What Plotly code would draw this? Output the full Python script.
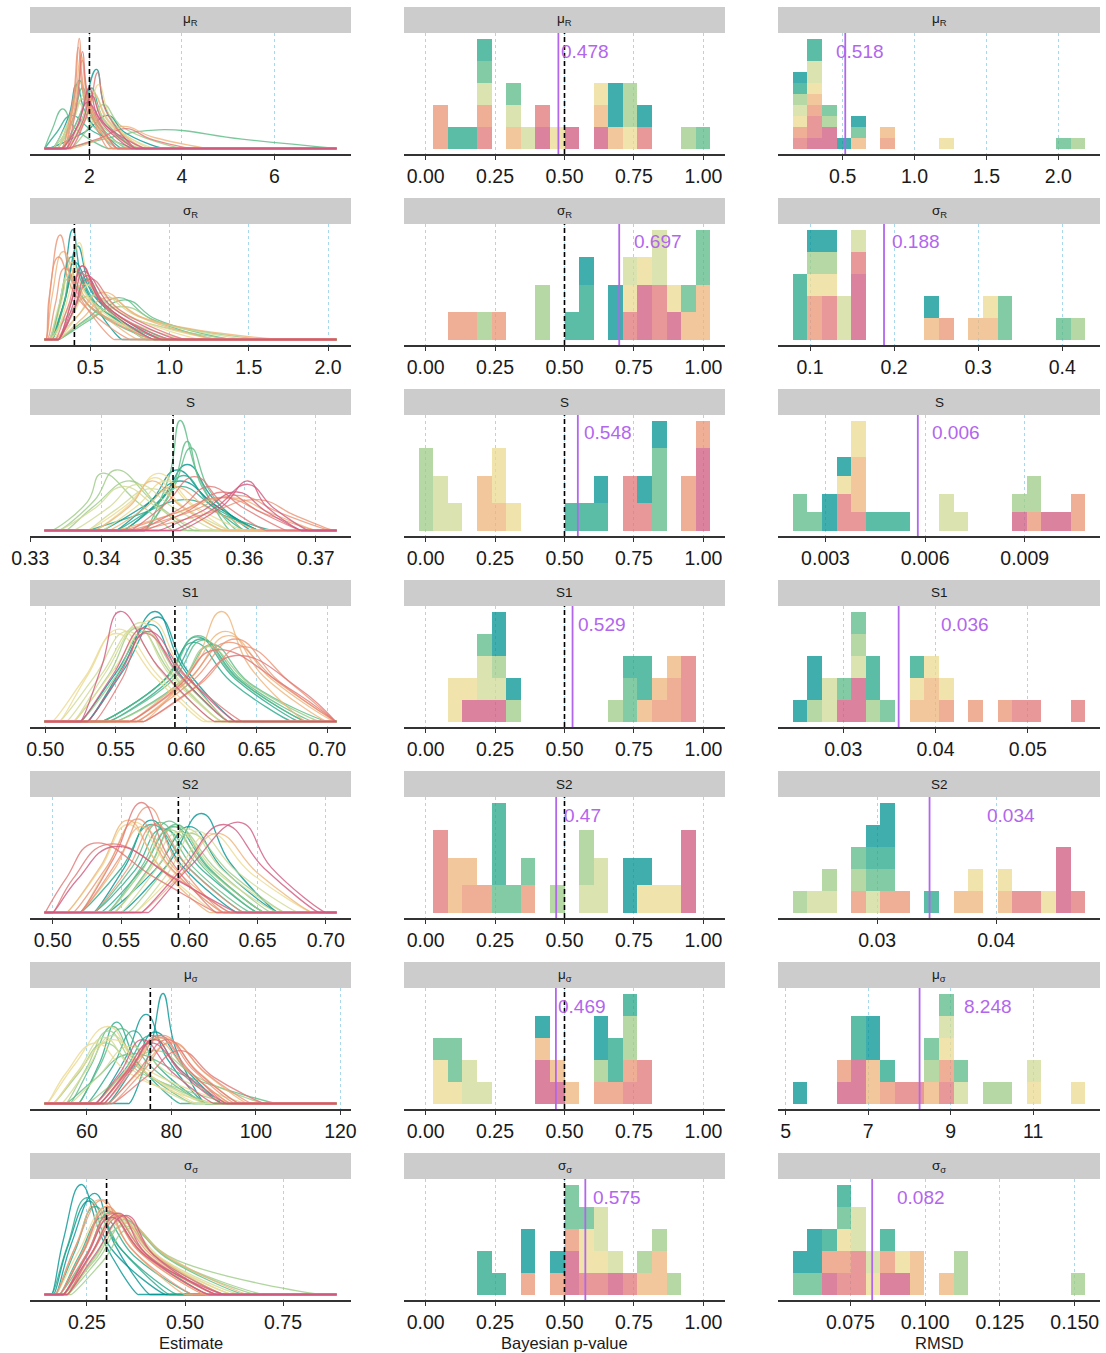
"""Posterior estimates, Bayesian p-values and RMSD for each model parameter"""

import numpy as np
import plotly.graph_objects as go

# ---------------------------------------------------------------------------
# data
# ---------------------------------------------------------------------------
PARAM_LABELS = ["μ<sub>R</sub>", "σ<sub>R</sub>", "S", "S1", "S2", "μ<sub>σ</sub>", "σ<sub>σ</sub>"]
TRUE_VALUES = [2, 0.4, 0.35, 0.592, 0.592, 75, 0.3]

# range covered by the posterior draws of each parameter
EST_LO = [1.03, 0.212, 0.332, 0.4995, 0.494, 49.97, 0.142]
EST_HI = [7.34, 2.053, 0.3729, 0.7066, 0.7078, 119.05, 0.886]

# one density per data set (30 sets, 3 per colour group, teal -> pink)
# (left foot, left half-max, mode, height, right half-max, right foot)
EST_MU_R = [
    (1.4, 1.85, 2.15, 72, 2.35, 3.0), (1.2, 1.55, 1.72, 58, 1.95, 2.6), (1.1, 1.9, 2.4, 30, 2.75, 3.6),
    (1.3, 1.6, 1.78, 62, 2.0, 2.7), (1.4, 1.85, 2.05, 55, 2.3, 3.0), (1.03, 1.3, 1.6, 30, 2.1, 3.0),
    (1.03, 1.2, 1.42, 36, 1.7, 2.4), (1.3, 1.65, 1.85, 55, 2.1, 2.8), (1.5, 2.3, 3.5, 17, 5.3, 7.34),
    (1.4, 1.75, 2.0, 52, 2.3, 3.0), (1.2, 1.6, 1.85, 45, 2.2, 3.1), (1.6, 2.0, 2.3, 40, 2.7, 4.0),
    (1.3, 1.65, 1.9, 50, 2.2, 3.0), (1.5, 1.85, 2.1, 48, 2.45, 3.3), (1.2, 1.5, 1.75, 42, 2.05, 2.9),
    (1.5, 1.95, 2.2, 58, 2.45, 3.1), (1.3, 1.6, 1.8, 60, 2.0, 2.6), (1.4, 1.8, 2.05, 45, 2.4, 3.4),
    (1.4, 1.68, 1.82, 85, 1.98, 2.5), (1.5, 1.9, 2.1, 50, 2.4, 3.2), (1.6, 2.3, 2.7, 20, 3.4, 4.6),
    (1.45, 1.68, 1.78, 100, 1.9, 2.4), (1.4, 1.65, 1.76, 92, 1.9, 2.5), (1.45, 1.7, 1.85, 80, 2.0, 2.6),
    (1.5, 1.74, 1.85, 88, 2.0, 2.6), (1.6, 1.98, 2.18, 69, 2.35, 3.0), (1.5, 2.2, 2.8, 18, 3.3, 4.2),
    (1.5, 1.8, 2.0, 55, 2.2, 2.9), (1.55, 1.85, 2.05, 48, 2.3, 3.0), (1.4, 1.75, 1.95, 42, 2.35, 3.2),
]
EST_SIGMA_R = [
    (0.25, 0.33, 0.39, 100, 0.46, 0.7), (0.26, 0.35, 0.42, 85, 0.52, 0.85), (0.25, 0.34, 0.40, 70, 0.55, 0.9),
    (0.24, 0.32, 0.38, 75, 0.5, 0.9), (0.3, 0.4, 0.48, 55, 0.62, 1.0), (0.25, 0.33, 0.41, 62, 0.55, 0.95),
    (0.3, 0.5, 0.72, 36, 0.92, 1.4), (0.3, 0.48, 0.68, 38, 0.88, 1.3), (0.26, 0.33, 0.38, 58, 0.5, 0.9),
    (0.25, 0.35, 0.5, 40, 0.75, 1.4), (0.3, 0.45, 0.7, 30, 0.95, 1.6), (0.24, 0.3, 0.36, 55, 0.52, 1.0),
    (0.25, 0.35, 0.45, 50, 0.68, 1.3), (0.3, 0.42, 0.55, 42, 0.8, 1.5), (0.24, 0.3, 0.37, 60, 0.55, 1.1),
    (0.27, 0.37, 0.43, 88, 0.52, 0.85), (0.25, 0.32, 0.38, 70, 0.5, 0.9), (0.28, 0.4, 0.5, 50, 0.7, 1.2),
    (0.28, 0.42, 0.58, 43, 0.8, 1.3), (0.22, 0.26, 0.33, 80, 0.46, 0.8), (0.3, 0.45, 0.6, 38, 0.85, 1.7),
    (0.22, 0.25, 0.31, 95, 0.40, 0.65), (0.22, 0.24, 0.30, 75, 0.42, 0.75), (0.23, 0.28, 0.34, 65, 0.48, 0.9),
    (0.3, 0.38, 0.45, 67, 0.58, 0.95), (0.3, 0.4, 0.5, 55, 0.68, 1.1), (0.28, 0.36, 0.44, 60, 0.6, 1.0),
    (0.3, 0.38, 0.45, 67, 0.57, 0.9), (0.3, 0.39, 0.46, 62, 0.6, 0.95), (0.3, 0.4, 0.48, 58, 0.64, 1.05),
]
EST_S = [
    (0.343, 0.3485, 0.352, 60, 0.3555, 0.361), (0.342, 0.347, 0.3505, 55, 0.355, 0.362), (0.34, 0.346, 0.351, 45, 0.356, 0.362),
    (0.338, 0.345, 0.352, 28, 0.357, 0.364), (0.342, 0.347, 0.351, 40, 0.356, 0.362), (0.343, 0.348, 0.3515, 50, 0.355, 0.36),
    (0.346, 0.3495, 0.351, 100, 0.3535, 0.358), (0.346, 0.35, 0.352, 81, 0.354, 0.359), (0.346, 0.35, 0.3525, 75, 0.355, 0.36),
    (0.333, 0.338, 0.340, 52, 0.345, 0.35), (0.334, 0.339, 0.342, 55, 0.347, 0.352), (0.335, 0.339, 0.344, 45, 0.348, 0.353),
    (0.334, 0.339, 0.343, 40, 0.348, 0.354), (0.336, 0.341, 0.345, 42, 0.35, 0.356), (0.338, 0.342, 0.347, 38, 0.352, 0.358),
    (0.338, 0.344, 0.348, 52, 0.352, 0.358), (0.339, 0.344, 0.3475, 48, 0.351, 0.357), (0.34, 0.345, 0.349, 45, 0.353, 0.36),
    (0.339, 0.344, 0.347, 45, 0.351, 0.357), (0.342, 0.35, 0.358, 30, 0.364, 0.37), (0.341, 0.346, 0.35, 40, 0.355, 0.362),
    (0.344, 0.352, 0.359, 32, 0.365, 0.372), (0.345, 0.354, 0.362, 28, 0.367, 0.3725), (0.343, 0.35, 0.357, 30, 0.363, 0.37),
    (0.344, 0.349, 0.353, 49, 0.357, 0.363), (0.346, 0.352, 0.357, 35, 0.362, 0.368), (0.345, 0.351, 0.355, 40, 0.36, 0.366),
    (0.351, 0.357, 0.3605, 45, 0.363, 0.368), (0.348, 0.354, 0.359, 35, 0.363, 0.368), (0.35, 0.356, 0.3605, 42, 0.364, 0.369),
]
EST_S1 = [
    (0.53, 0.555, 0.578, 100, 0.597, 0.63), (0.53, 0.556, 0.58, 95, 0.6, 0.635), (0.525, 0.55, 0.575, 88, 0.595, 0.63),
    (0.54, 0.585, 0.607, 77, 0.635, 0.68), (0.545, 0.588, 0.61, 75, 0.638, 0.685), (0.54, 0.583, 0.605, 72, 0.632, 0.675),
    (0.545, 0.59, 0.612, 74, 0.64, 0.69), (0.54, 0.586, 0.608, 78, 0.636, 0.685), (0.55, 0.595, 0.618, 70, 0.645, 0.7),
    (0.52, 0.545, 0.565, 85, 0.59, 0.625), (0.55, 0.595, 0.615, 68, 0.645, 0.695), (0.525, 0.55, 0.57, 82, 0.595, 0.63),
    (0.52, 0.543, 0.568, 90, 0.59, 0.625), (0.51, 0.535, 0.558, 82, 0.585, 0.62), (0.515, 0.54, 0.565, 86, 0.588, 0.625),
    (0.51, 0.53, 0.552, 84, 0.58, 0.615), (0.52, 0.548, 0.575, 92, 0.597, 0.63), (0.505, 0.528, 0.55, 80, 0.578, 0.612),
    (0.57, 0.605, 0.625, 100, 0.645, 0.685), (0.56, 0.6, 0.628, 82, 0.655, 0.7), (0.565, 0.603, 0.63, 78, 0.66, 0.7055),
    (0.56, 0.6, 0.63, 72, 0.665, 0.706), (0.565, 0.605, 0.635, 75, 0.665, 0.706), (0.57, 0.61, 0.64, 68, 0.675, 0.706),
    (0.56, 0.595, 0.62, 65, 0.67, 0.706), (0.57, 0.605, 0.635, 60, 0.68, 0.706), (0.535, 0.555, 0.57, 80, 0.6, 0.64),
    (0.525, 0.54, 0.553, 100, 0.58, 0.62), (0.525, 0.548, 0.57, 85, 0.595, 0.63), (0.53, 0.552, 0.573, 82, 0.6, 0.635),
]
EST_S2 = [
    (0.55, 0.585, 0.609, 90, 0.63, 0.665), (0.53, 0.553, 0.572, 84, 0.595, 0.635), (0.54, 0.575, 0.6, 78, 0.625, 0.665),
    (0.52, 0.55, 0.572, 80, 0.6, 0.64), (0.535, 0.565, 0.588, 78, 0.615, 0.655), (0.53, 0.56, 0.58, 76, 0.61, 0.65),
    (0.54, 0.565, 0.585, 83, 0.61, 0.65), (0.545, 0.57, 0.59, 80, 0.615, 0.655), (0.53, 0.558, 0.578, 82, 0.603, 0.645),
    (0.545, 0.57, 0.59, 78, 0.62, 0.66), (0.54, 0.565, 0.585, 75, 0.615, 0.655), (0.555, 0.58, 0.6, 72, 0.63, 0.67),
    (0.55, 0.575, 0.598, 76, 0.625, 0.67), (0.56, 0.585, 0.605, 74, 0.635, 0.68), (0.545, 0.57, 0.592, 73, 0.62, 0.665),
    (0.51, 0.535, 0.555, 80, 0.58, 0.62), (0.56, 0.59, 0.615, 72, 0.645, 0.69), (0.52, 0.54, 0.56, 82, 0.585, 0.625),
    (0.51, 0.535, 0.555, 84, 0.578, 0.615), (0.52, 0.545, 0.565, 78, 0.59, 0.63), (0.565, 0.595, 0.62, 72, 0.65, 0.69),
    (0.52, 0.548, 0.57, 96, 0.59, 0.625), (0.515, 0.54, 0.562, 85, 0.585, 0.625), (0.53, 0.555, 0.575, 80, 0.6, 0.64),
    (0.52, 0.545, 0.565, 100, 0.585, 0.62), (0.4945, 0.51, 0.53, 63, 0.575, 0.62), (0.5, 0.515, 0.54, 62, 0.59, 0.63),
    (0.57, 0.6, 0.637, 82, 0.66, 0.7), (0.565, 0.595, 0.625, 80, 0.655, 0.695), (0.5, 0.518, 0.545, 60, 0.59, 0.635),
]
EST_MU_SIGMA = [
    (70, 75, 78, 100, 81, 88), (62, 69, 74, 81, 79, 88), (65, 71, 76, 65, 83, 92),
    (58, 63, 67, 74, 72, 82), (62, 69, 75, 62, 82, 92), (60, 66, 71, 66, 77, 88),
    (56, 61, 66, 70, 72, 85), (58, 63, 68, 68, 75, 88), (55, 62, 70, 45, 85, 105),
    (55, 60, 65, 66, 72, 90), (52, 58, 64, 55, 73, 95), (60, 68, 76, 48, 86, 102),
    (52, 58, 64, 60, 71, 85), (54, 60, 66, 62, 73, 88), (56, 63, 70, 52, 80, 98),
    (50.5, 57, 65, 70, 72, 86), (50.5, 55, 62, 55, 70, 90), (52, 58, 66, 58, 75, 95),
    (63, 70, 78, 60, 86, 96), (65, 72, 80, 55, 88, 98), (62, 69, 76, 58, 84, 94),
    (64, 71, 78, 62, 85, 95), (66, 73, 80, 56, 88, 99), (63, 70, 77, 60, 84, 94),
    (63, 70, 77, 62, 84, 93), (65, 72, 79, 58, 86, 96), (66, 74, 82, 48, 90, 102),
    (62, 68, 73, 58, 80, 90), (64, 70, 76, 58, 82, 92), (63, 69, 75, 55, 83, 93),
]
EST_SIGMA_SIGMA = [
    (0.16, 0.19, 0.235, 100, 0.29, 0.38), (0.17, 0.21, 0.27, 92, 0.32, 0.41), (0.165, 0.2, 0.255, 85, 0.31, 0.45),
    (0.16, 0.2, 0.25, 88, 0.33, 0.46), (0.17, 0.22, 0.27, 80, 0.34, 0.48), (0.18, 0.23, 0.29, 70, 0.37, 0.52),
    (0.19, 0.26, 0.33, 72, 0.42, 0.6), (0.2, 0.27, 0.34, 68, 0.45, 0.65), (0.18, 0.25, 0.31, 75, 0.4, 0.56),
    (0.2, 0.28, 0.35, 65, 0.46, 0.7), (0.19, 0.27, 0.34, 62, 0.48, 0.85), (0.21, 0.29, 0.36, 60, 0.47, 0.68),
    (0.18, 0.24, 0.3, 78, 0.39, 0.58), (0.19, 0.26, 0.32, 72, 0.42, 0.62), (0.2, 0.27, 0.34, 66, 0.44, 0.64),
    (0.17, 0.23, 0.3, 80, 0.38, 0.55), (0.18, 0.24, 0.31, 76, 0.4, 0.58), (0.2, 0.26, 0.33, 70, 0.43, 0.62),
    (0.17, 0.22, 0.28, 86, 0.36, 0.5), (0.2, 0.26, 0.33, 72, 0.45, 0.66), (0.19, 0.25, 0.32, 74, 0.42, 0.6),
    (0.17, 0.22, 0.29, 86, 0.36, 0.52), (0.18, 0.24, 0.3, 80, 0.38, 0.55), (0.19, 0.25, 0.32, 74, 0.41, 0.58),
    (0.19, 0.25, 0.31, 74, 0.4, 0.58), (0.2, 0.26, 0.34, 72, 0.42, 0.6), (0.18, 0.24, 0.3, 76, 0.39, 0.56),
    (0.19, 0.26, 0.33, 74, 0.4, 0.56), (0.2, 0.27, 0.35, 72, 0.42, 0.58), (0.19, 0.25, 0.31, 70, 0.4, 0.6),
]

# Bayesian p-values, one per data set (same order as the densities)
PV_MU_R = [0.68, 0.69, 0.79, 0.11, 0.16, 0.21, 0.22, 0.32, 0.999, 0.73, 0.74, 0.95, 0.21, 0.31, 0.37,
           0.47, 0.63, 0.74, 0.32, 0.62, 0.68, 0.05, 0.06, 0.20, 0.21, 0.42, 0.79, 0.43, 0.53, 0.63]
PV_SIGMA_R = [0.58, 0.67, 0.69, 0.53, 0.57, 0.59, 0.94, 0.98, 0.999, 0.21, 0.41, 0.43, 0.75, 0.83, 0.85,
              0.73, 0.79, 0.88, 0.93, 0.99, 0.98, 0.10, 0.15, 0.27, 0.72, 0.82, 0.84, 0.78, 0.80, 0.88]
PV_S = [0.64, 0.78, 0.83, 0.52, 0.57, 0.62, 0.82, 0.84, 0.86, 0.001, 0.01, 0.02, 0.04, 0.07, 0.12,
        0.25, 0.27, 0.31, 0.20, 0.22, 0.26, 0.93, 0.95, 0.99, 0.72, 0.75, 0.77, 0.975, 0.985, 0.996]
PV_S1 = [0.25, 0.28, 0.33, 0.73, 0.77, 0.80, 0.22, 0.72, 0.75, 0.27, 0.31, 0.67, 0.20, 0.23, 0.26,
         0.09, 0.12, 0.15, 0.79, 0.83, 0.88, 0.84, 0.89, 0.91, 0.93, 0.94, 0.96, 0.16, 0.21, 0.25]
PV_S2 = [0.72, 0.75, 0.78, 0.25, 0.26, 0.28, 0.27, 0.32, 0.37, 0.46, 0.57, 0.59, 0.56, 0.62, 0.64,
         0.79, 0.84, 0.90, 0.09, 0.12, 0.17, 0.15, 0.22, 0.38, 0.04, 0.05, 0.07, 0.93, 0.94, 0.96]
PV_MU_SIGMA = [0.41, 0.63, 0.65, 0.67, 0.69, 0.73, 0.06, 0.10, 0.12, 0.62, 0.72, 0.75, 0.14, 0.17, 0.21,
               0.04, 0.07, 0.11, 0.43, 0.46, 0.52, 0.64, 0.68, 0.74, 0.73, 0.78, 0.80, 0.40, 0.42, 0.48]
PV_SIGMA_SIGMA = [0.36, 0.38, 0.46, 0.20, 0.23, 0.26, 0.52, 0.54, 0.57, 0.78, 0.83, 0.89, 0.62, 0.64, 0.67,
                  0.56, 0.59, 0.63, 0.77, 0.82, 0.85, 0.37, 0.48, 0.51, 0.58, 0.61, 0.73, 0.51, 0.53, 0.69]
PV_MEAN = [0.478, 0.697, 0.548, 0.529, 0.47, 0.469, 0.575]

# RMSD, one per data set
RMSD_MU_R = [0.22, 0.51, 0.61, 0.203, 0.30, 0.31, 0.41, 0.62, 2.04, 0.24, 0.40, 2.137, 0.21, 0.29, 0.32,
             0.23, 0.33, 1.22, 0.28, 0.59, 0.81, 0.23, 0.31, 0.82, 0.22, 0.29, 0.34, 0.30, 0.39, 0.42]
RMSD_SIGMA_R = [0.105, 0.122, 0.245, 0.088, 0.09, 0.094, 0.328, 0.335, 0.40, 0.108, 0.12, 0.4188,
                0.135, 0.145, 0.155, 0.10, 0.125, 0.31, 0.24, 0.295, 0.315, 0.102, 0.11, 0.26,
                0.118, 0.128, 0.158, 0.152, 0.16, 0.164]
RMSD_S = [0.00305, 0.00315, 0.00355, 0.00443, 0.00488, 0.0053, 0.00223, 0.00235, 0.00268, 0.00884,
          0.00925, 0.00932, 0.0066, 0.00668, 0.0071, 0.0035, 0.00395, 0.0040, 0.0039, 0.00402,
          0.00408, 0.0093, 0.0105, 0.010606, 0.00352, 0.0036, 0.00398, 0.0088, 0.0097, 0.0102]
RMSD_S1 = [0.0253, 0.0266, 0.0272, 0.0330, 0.0335, 0.0380, 0.0300, 0.0317, 0.0348, 0.0268, 0.0315, 0.0329,
           0.0283, 0.0288, 0.0319, 0.0378, 0.0395, 0.0412, 0.0382, 0.0392, 0.0398, 0.0410, 0.0443, 0.0474,
           0.0490, 0.0507, 0.05545, 0.0302, 0.0313, 0.0320]
RMSD_S2 = [0.0298, 0.0308, 0.0310, 0.0296, 0.0306, 0.0346, 0.0284, 0.0294, 0.0312, 0.023515, 0.0259, 0.0285,
           0.0247, 0.0261, 0.0297, 0.0382, 0.0406, 0.0444, 0.0370, 0.0384, 0.0408, 0.0283, 0.0305, 0.0321,
           0.0420, 0.0432, 0.046873, 0.0455, 0.0457, 0.0459]
RMSD_MU_SIGMA = [5.348, 7.05, 7.20, 6.70, 6.85, 7.45, 8.50, 8.90, 9.20, 8.60, 10.0, 10.3, 8.85, 9.30, 11.0,
                 8.95, 11.05, 12.089, 7.10, 7.15, 8.45, 6.40, 7.50, 8.80, 7.80, 8.20, 8.90, 6.45, 6.75, 6.80]
RMSD_SIGMA_SIGMA = [0.0625, 0.064, 0.0595, 0.068, 0.073, 0.0875, 0.05816, 0.063, 0.0725, 0.111, 0.113, 0.15112,
                    0.077, 0.079, 0.0825, 0.0728, 0.0815, 0.092, 0.0965, 0.098, 0.1065, 0.0665, 0.0735, 0.0868,
                    0.0712, 0.0765, 0.0785, 0.069, 0.0872, 0.0925]
RMSD_MEAN = [0.518, 0.188, 0.00578, 0.036, 0.0344, 8.248, 0.0823]

EST_CURVES = [EST_MU_R, EST_SIGMA_R, EST_S, EST_S1, EST_S2, EST_MU_SIGMA, EST_SIGMA_SIGMA]
PV = [PV_MU_R, PV_SIGMA_R, PV_S, PV_S1, PV_S2, PV_MU_SIGMA, PV_SIGMA_SIGMA]
RMSD = [RMSD_MU_R, RMSD_SIGMA_R, RMSD_S, RMSD_S1, RMSD_S2, RMSD_MU_SIGMA, RMSD_SIGMA_SIGMA]

# axis breaks
EST_TICKS = [[2, 4, 6], [0.5, 1.0, 1.5, 2.0], [0.33, 0.34, 0.35, 0.36, 0.37],
             [0.5, 0.55, 0.6, 0.65, 0.7], [0.5, 0.55, 0.6, 0.65, 0.7], [60, 80, 100, 120], [0.25, 0.5, 0.75]]
EST_TICKTEXT = [["2", "4", "6"], ["0.5", "1.0", "1.5", "2.0"], ["0.33", "0.34", "0.35", "0.36", "0.37"],
                ["0.50", "0.55", "0.60", "0.65", "0.70"], ["0.50", "0.55", "0.60", "0.65", "0.70"],
                ["60", "80", "100", "120"], ["0.25", "0.50", "0.75"]]
PV_TICKS = [0, 0.25, 0.5, 0.75, 1.0]
PV_TICKTEXT = ["0.00", "0.25", "0.50", "0.75", "1.00"]
RMSD_TICKS = [[0.5, 1.0, 1.5, 2.0], [0.1, 0.2, 0.3, 0.4], [0.003, 0.006, 0.009], [0.03, 0.04, 0.05],
              [0.03, 0.04], [5, 7, 9, 11], [0.075, 0.1, 0.125, 0.15]]
RMSD_TICKTEXT = [["0.5", "1.0", "1.5", "2.0"], ["0.1", "0.2", "0.3", "0.4"], ["0.003", "0.006", "0.009"],
                 ["0.03", "0.04", "0.05"], ["0.03", "0.04"], ["5", "7", "9", "11"],
                 ["0.075", "0.100", "0.125", "0.150"]]
COLUMN_TITLES = ["Estimate", "Bayesian p-value", "RMSD"]

# ---------------------------------------------------------------------------
# style
# ---------------------------------------------------------------------------
W, H = 1106, 1353
FONT = "Liberation Sans, Arial, sans-serif"
GROUP_COLORS = ["#009392", "#26A789", "#5ABA85", "#9CCB86", "#CFDA95",
                "#EBD990", "#EEB479", "#EA9474", "#E07675", "#CF597E"]
PURPLE = "#B266EE"
GRID = "#A9D8EC"
NBINS = 20

COL_X0 = [30, 404, 778]
COL_X1 = [351, 725, 1100]
ROW_PITCH = 191
STRIP_TOP, PANEL_TOP, PANEL_BOTTOM = 7, 33, 154


def rgba(hex_color, alpha):
    h = hex_color.lstrip("#")
    r, g, b = (int(h[i:i + 2], 16) for i in (0, 2, 4))
    return f"rgba({r},{g},{b},{alpha})"


def bins_for(values):
    """ggplot-like binning: NBINS bins centred on the min and max value"""
    lo, hi = min(values), max(values)
    w = (hi - lo) / (NBINS - 1)
    return lo - w / 2, w


def group_of(d):
    return d // 3


fig = go.Figure()
layout_axes = {}
shapes = []
annotations = []

pv_start, pv_w = bins_for([v for vals in PV for v in vals])

for r in range(7):
    ydom = [1 - (PANEL_BOTTOM + r * ROW_PITCH) / H, 1 - (PANEL_TOP + r * ROW_PITCH) / H]
    for c in range(3):
        p = r * 3 + c
        sfx = "" if p == 0 else str(p + 1)
        xname, yname = "x" + sfx, "y" + sfx

        if c == 0:
            lo, hi = EST_LO[r], EST_HI[r]
            eps = 0.004 * (hi - lo)
            for d, (lf, lh, px, h, rh, rf) in enumerate(EST_CURVES[r]):
                xs, ys = [], []
                if lf - eps > lo:
                    xs += [lo, lf - eps]
                    ys += [0, 0]
                xs += [lf, lh, px, rh, rf]
                ys += [0, h / 2, h, h / 2, 0]
                if rf + eps < hi:
                    xs += [rf + eps, hi]
                    ys += [0, 0]
                fig.add_trace(go.Scatter(
                    x=xs, y=ys, mode="lines",
                    line=dict(color=rgba(GROUP_COLORS[group_of(d)], 0.8), width=1.3,
                              shape="spline", smoothing=1.3),
                    xaxis=xname, yaxis=yname, showlegend=False, hoverinfo="skip",
                ))
            ymax = max(k[3] for k in EST_CURVES[r])
            pad = 0.05 * (hi - lo)
            xrange = [lo - pad, hi + pad]
            ticks, ticktext = EST_TICKS[r], EST_TICKTEXT[r]
            shapes.append(dict(type="line", xref=xname, yref=yname + " domain",
                               x0=TRUE_VALUES[r], x1=TRUE_VALUES[r], y0=0, y1=1,
                               line=dict(color="black", width=1.6, dash="5px,3px")))
        else:
            vals = PV[r] if c == 1 else RMSD[r]
            start, w = (pv_start, pv_w) if c == 1 else bins_for(vals)
            edges = start + w * np.arange(NBINS + 1)
            counts, _ = np.histogram(vals, bins=edges)
            ymax = counts.max()
            # last data set first so that it ends up at the bottom of the stack
            for d in reversed(range(len(vals))):
                fig.add_trace(go.Histogram(
                    x=[vals[d]],
                    xbins=dict(start=start, end=edges[-1], size=w),
                    marker=dict(color=rgba(GROUP_COLORS[group_of(d)], 0.75), line=dict(width=0)),
                    xaxis=xname, yaxis=yname, showlegend=False, hoverinfo="skip",
                ))
            pad = 0.05 * (edges[-1] - edges[0])
            xrange = [edges[0] - pad, edges[-1] + pad]
            if c == 1:
                ticks, ticktext = PV_TICKS, PV_TICKTEXT
                shapes.append(dict(type="line", xref=xname, yref=yname + " domain",
                                   x0=0.5, x1=0.5, y0=0, y1=1,
                                   line=dict(color="black", width=1.6, dash="5px,3px")))
                mean = PV_MEAN[r]
            else:
                ticks, ticktext = RMSD_TICKS[r], RMSD_TICKTEXT[r]
                mean = RMSD_MEAN[r]
            shapes.append(dict(type="line", xref=xname, yref=yname + " domain",
                               x0=mean, x1=mean, y0=0, y1=1,
                               line=dict(color=PURPLE, width=1.8)))
            annotations.append(dict(x=mean * 1.2, y=ymax, xref=xname, yref=yname,
                                    text=f"{round(mean, 3):g}", showarrow=False,
                                    xanchor="center", yanchor="top",
                                    font=dict(size=19, color=PURPLE, family=FONT)))

        layout_axes["xaxis" + sfx] = dict(
            domain=[COL_X0[c] / W, COL_X1[c] / W], anchor=yname, range=xrange,
            tickmode="array", tickvals=ticks, ticktext=ticktext,
            showline=True, linecolor="#333333", linewidth=1.6,
            ticks="outside", ticklen=4, tickwidth=1.3, tickcolor="#333333",
            tickfont=dict(size=19.5, color="#1a1a1a", family=FONT),
            showgrid=True, gridcolor=GRID, gridwidth=0.9, griddash="3px,3px",
            zeroline=False, fixedrange=True, automargin=False,
        )
        layout_axes["yaxis" + sfx] = dict(
            domain=ydom, anchor=xname, range=[-0.05 * ymax, 1.05 * ymax],
            visible=False, showgrid=False, zeroline=False, fixedrange=True, automargin=False,
        )

        # facet strip
        sy0 = 1 - (STRIP_TOP + r * ROW_PITCH) / H
        sy1 = 1 - (PANEL_TOP + r * ROW_PITCH) / H
        shapes.append(dict(type="rect", xref="paper", yref="paper",
                           x0=COL_X0[c] / W, x1=COL_X1[c] / W, y0=sy1, y1=sy0,
                           fillcolor="#CCCCCC", line=dict(width=0), layer="below"))
        annotations.append(dict(x=(COL_X0[c] + COL_X1[c]) / 2 / W, y=(sy0 + sy1) / 2,
                                xref="paper", yref="paper", text=PARAM_LABELS[r],
                                showarrow=False, xanchor="center", yanchor="middle",
                                font=dict(size=13.5, color="#1a1a1a", family=FONT)))

for c, title in enumerate(COLUMN_TITLES):
    annotations.append(dict(x=(COL_X0[c] + COL_X1[c]) / 2 / W, y=1 - 1343 / H,
                            xref="paper", yref="paper", text=title, showarrow=False,
                            xanchor="center", yanchor="middle",
                            font=dict(size=16.5, color="#1a1a1a", family=FONT)))

fig.update_layout(
    width=W, height=H, autosize=False,
    margin=dict(l=0, r=0, t=0, b=0, pad=0),
    paper_bgcolor="white", plot_bgcolor="white",
    barmode="stack", bargap=0,
    font=dict(family=FONT),
    shapes=shapes, annotations=annotations,
    **layout_axes,
)

# the page's default body margin would push the fixed-size figure off the window
fig.write_html("out.html", config={"displayModeBar": False},
               post_script="document.body.style.margin = '0';")
